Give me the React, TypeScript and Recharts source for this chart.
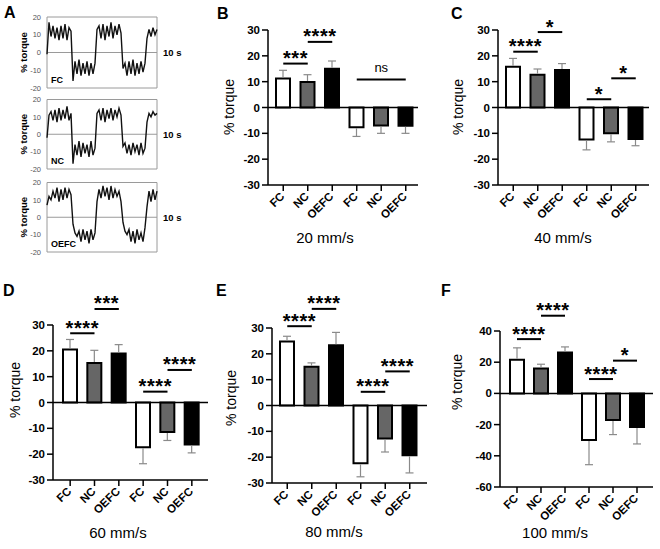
import React from "react";
import {
  BarChart,
  Bar,
  Cell,
  XAxis,
  YAxis,
  ReferenceLine,
  ReferenceArea,
  LineChart,
  Line,
} from "recharts";

const FONT = "'Liberation Sans', Arial, Helvetica, sans-serif";
const W = 660;
const H = 549;

// categories (suffix keeps the two halves apart)
const CATS = ["FC1", "NC1", "OEFC1", "FC2", "NC2", "OEFC2"];
const FILLS = ["#ffffff", "#666666", "#000000", "#ffffff", "#666666", "#000000"];

const TICKS_30 = [-30, -20, -10, 0, 10, 20, 30];
const TICKS_F = [-60, -40, -20, 0, 20, 40];

// means / SD
const MEAN_20 = [11.2, 9.9, 15.0, -7.6, -7.0, -7.1];
const SD_20 = [3.2, 2.8, 3.0, 3.6, 3.0, 2.9];
const MEAN_40 = [15.8, 12.7, 14.5, -12.4, -10.0, -12.2];
const SD_40 = [3.2, 2.2, 2.5, 4.0, 3.3, 2.6];
const MEAN_60 = [20.5, 15.3, 19.0, -17.3, -11.4, -16.3];
const SD_60 = [3.9, 4.9, 3.4, 6.4, 3.3, 3.2];
const MEAN_80 = [24.8, 15.0, 23.3, -22.4, -12.8, -19.3];
const SD_80 = [2.0, 1.5, 5.0, 5.2, 5.2, 6.8];
const MEAN_100 = [21.6, 16.0, 26.2, -29.9, -17.0, -21.6];
const SD_100 = [7.6, 2.7, 3.6, 15.8, 9.4, 10.8];

// significance bars: [from, to, y, text]
const SIG_20: [string, string, number, string][] = [
  ["FC1", "NC1", 17, "***"],
  ["NC1", "OEFC1", 25.4, "****"],
  ["FC2", "OEFC2", 10.8, "ns"],
];
const SIG_40: [string, string, number, string][] = [
  ["FC1", "NC1", 21.6, "****"],
  ["NC1", "OEFC1", 29.2, "*"],
  ["FC2", "NC2", 3.2, "*"],
  ["NC2", "OEFC2", 11.3, "*"],
];
const SIG_60: [string, string, number, string][] = [
  ["FC1", "NC1", 26.8, "****"],
  ["NC1", "OEFC1", 36.2, "***"],
  ["FC2", "NC2", 4.2, "****"],
  ["NC2", "OEFC2", 12.6, "****"],
];
const SIG_80: [string, string, number, string][] = [
  ["FC1", "NC1", 30.7, "****"],
  ["NC1", "OEFC1", 37.4, "****"],
  ["FC2", "NC2", 5.3, "****"],
  ["NC2", "OEFC2", 13.2, "****"],
];
const SIG_100: [string, string, number, string][] = [
  ["FC1", "NC1", 34.8, "****"],
  ["NC1", "OEFC1", 49.8, "****"],
  ["FC2", "NC2", 9.2, "****"],
  ["NC2", "OEFC2", 21, "*"],
];

// panel A torque traces (% torque, sampled along the 10 s window)
const TRACE_FC = [-1, 17, 9, 15, 8, 14, 7, 15, 8, 16, 7, 14, 12, -16, -5, -12, -4, -13, -6, -12, -5, -13, -6, -12, -6, 13, 15, 8, 16, 7, 15, 9, 17, 8, 15, 10, 16, 11, -9, -6, -13, -5, -12, -4, -13, -6, -12, -5, -11, -6, 8, 13, 9, 14, 10, 13];
const TRACE_NC = [-2, 11, 13, 8, 14, 7, 15, 8, 14, 9, 16, 8, 12, -17, -6, -12, -4, -13, -5, -11, -6, -13, -4, -12, -8, 12, 14, 8, 15, 7, 14, 9, 15, 8, 14, 10, 15, 11, -7, -5, -11, -6, -12, -5, -10, -6, -12, -5, -11, -8, 7, 12, 10, 13, 11, 12];
const TRACE_OEFC = [7, 12, 10, 15, 11, 17, 9, 16, 10, 17, 11, 16, 13, -4, -9, -11, -8, -14, -7, -13, -8, -15, -7, -13, -9, 9, 16, 11, 18, 12, 17, 10, 18, 11, 16, 12, 15, 9, -3, -8, -10, -7, -14, -8, -15, -7, -13, -9, -14, -6, 6, 15, 9, 16, 10, 15];
const A_TICKS = [-20, -10, 0, 10, 20];

const PANELS = [
  { id: "B", mean: MEAN_20, sd: SD_20, sig: SIG_20, ticks: TICKS_30, title: "20 mm/s",
    left: 268, right: 418, top: 30, bottom: 185, padL: 3, padR: 0,
    letterX: 217, letterY: 19, titleX: 325, titleY: 243, ylabX: 234, ylabY: 107 },
  { id: "C", mean: MEAN_40, sd: SD_40, sig: SIG_40, ticks: TICKS_30, title: "40 mm/s",
    left: 498, right: 649, top: 30, bottom: 185, padL: 3, padR: 1,
    letterX: 451, letterY: 19, titleX: 563, titleY: 243, ylabX: 463, ylabY: 107 },
  { id: "D", mean: MEAN_60, sd: SD_60, sig: SIG_60, ticks: TICKS_30, title: "60 mm/s",
    left: 53, right: 208, top: 325, bottom: 480, padL: 5, padR: 4,
    letterX: 3, letterY: 296, titleX: 118, titleY: 538, ylabX: 20, ylabY: 390 },
  { id: "E", mean: MEAN_80, sd: SD_80, sig: SIG_80, ticks: TICKS_30, title: "80 mm/s",
    left: 272, right: 427, top: 328, bottom: 483, padL: 3, padR: 5,
    letterX: 216, letterY: 296, titleX: 334, titleY: 537, ylabX: 236, ylabY: 398 },
  { id: "F", mean: MEAN_100, sd: SD_100, sig: SIG_100, ticks: TICKS_F, title: "100 mm/s",
    left: 500, right: 653, top: 331, bottom: 487, padL: 5, padR: 4,
    letterX: 441, letterY: 296, titleX: 555, titleY: 538, ylabX: 462, ylabY: 382 },
];

const A_BOXES = [
  { trace: TRACE_FC, label: "FC", top: 17, bottom: 88 },
  { trace: TRACE_NC, label: "NC", top: 99.5, bottom: 169 },
  { trace: TRACE_OEFC, label: "OEFC", top: 182.5, bottom: 252 },
];

function CatTick(props: any) {
  const { x, y, payload } = props;
  const label = String(payload.value).replace(/\d$/, "");
  const px = x + 2;
  const py = y + 4;
  return (
    <text x={px} y={py} textAnchor="end" transform={`rotate(-45 ${px} ${py})`}
      fontSize={11.5} fontWeight="bold" fill="#000" fontFamily={FONT}>
      {label}
    </text>
  );
}

function ErrShape(props: any) {
  const { x, y, width, height, payload } = props;
  if (x == null || y == null || width == null || height == null) return null;
  const cx = x + width / 2;
  const y1 = y;
  const y2 = y + height;
  const up = payload.mean >= 0;
  const far = up ? Math.min(y1, y2) : Math.max(y1, y2);
  const near = up ? Math.max(y1, y2) - 1 : Math.min(y1, y2) + 1;
  return (
    <g>
      <line x1={cx} x2={cx} y1={near} y2={far} stroke="#8a8a8a" strokeWidth={1.2} />
      <line x1={cx - 4} x2={cx + 4} y1={far} y2={far} stroke="#8a8a8a" strokeWidth={1.2} />
    </g>
  );
}

function SigLabel(props: any) {
  const { viewBox, text } = props;
  const cx = viewBox.x + viewBox.width / 2;
  if (text === "ns") {
    return (
      <text x={cx} y={viewBox.y - 7.5} textAnchor="middle" fontSize={13} fill="#000" fontFamily={FONT}>
        {text}
      </text>
    );
  }
  return (
    <text x={cx} y={viewBox.y + 1.5} textAnchor="middle" fontSize={20} fontWeight="bold"
      letterSpacing={0.6} fill="#000" fontFamily={FONT}>
      {text}
    </text>
  );
}

function BarPanel({ p }: { p: (typeof PANELS)[number] }) {
  const data = CATS.map((c, i) => ({
    cat: c,
    mean: p.mean[i],
    err: p.mean[i] < 0 ? -p.sd[i] : p.sd[i],
  }));
  const yW = 40;
  return (
    <div style={{ position: "absolute", left: 0, top: 0 }}>
      <BarChart
        width={W}
        height={H}
        data={data}
        stackOffset="sign"
        barCategoryGap={0}
        margin={{ top: p.top, bottom: 0, left: p.left - yW, right: W - p.right }}
      >
        <XAxis
          dataKey="cat"
          interval={0}
          height={H - p.bottom}
          padding={{ left: p.padL, right: p.padR }}
          tick={<CatTick />}
          tickSize={6}
          axisLine={{ stroke: "#000", strokeWidth: 1.5 }}
          tickLine={{ stroke: "#000", strokeWidth: 1.5 }}
        />
        <YAxis
          width={yW}
          type="number"
          domain={[p.ticks[0], p.ticks[p.ticks.length - 1]]}
          ticks={p.ticks}
          interval={0}
          tickSize={6}
          tick={{ fill: "#000", fontSize: 11.5, fontWeight: "bold", fontFamily: FONT }}
          axisLine={{ stroke: "#000", strokeWidth: 1.5 }}
          tickLine={{ stroke: "#000", strokeWidth: 1.5 }}
        />
        <Bar dataKey="mean" stackId="s" barSize={14} stroke="#000" strokeWidth={2}
          isAnimationActive={false}>
          {data.map((d, i) => (
            <Cell key={d.cat} fill={FILLS[i]} />
          ))}
        </Bar>
        <Bar dataKey="err" stackId="s" barSize={14} isAnimationActive={false}
          shape={(sp: any) => <ErrShape {...sp} />} />
        <ReferenceLine y={0} stroke="#000" strokeWidth={1.5} />
        {p.sig.map(([a, b, y, t]) => (
          <ReferenceLine
            key={a + b}
            segment={[{ x: a, y }, { x: b, y }]}
            stroke="#000"
            strokeWidth={2}
            ifOverflow="visible"
            label={<SigLabel text={t} />}
          />
        ))}
      </BarChart>
    </div>
  );
}

function TracePanel({ b }: { b: (typeof A_BOXES)[number] }) {
  const data = b.trace.map((v, i) => ({ t: i, v }));
  const left = 47;
  const right = 157;
  const yW = 20;
  return (
    <div style={{ position: "absolute", left: 0, top: 0 }}>
      <LineChart
        width={W}
        height={H}
        data={data}
        margin={{ top: b.top, bottom: H - b.bottom, left: left - yW, right: W - right }}
      >
        <XAxis dataKey="t" type="number" domain={[0, b.trace.length - 1]} hide />
        <YAxis
          width={yW}
          type="number"
          domain={[-20, 20]}
          ticks={A_TICKS}
          interval={0}
          tickSize={0}
          tickMargin={6}
          axisLine={false}
          tickLine={false}
          tick={{ fill: "#555", fontSize: 7.5, fontFamily: FONT }}
        />
        <ReferenceArea x1={0} x2={b.trace.length - 1} y1={-20} y2={20}
          fill="none" stroke="#9a9a9a" strokeWidth={1} />
        <ReferenceLine y={0} stroke="#9a9a9a" strokeWidth={1} />
        <Line dataKey="v" type="linear" stroke="#111" strokeWidth={1.4} dot={false}
          isAnimationActive={false} />
      </LineChart>
    </div>
  );
}

export default function App() {
  return (
    <div style={{ position: "absolute", left: 0, top: 0, width: W, height: H, background: "#fff", fontFamily: FONT }}>
      {A_BOXES.map((b) => (
        <TracePanel key={b.label} b={b} />
      ))}
      {PANELS.map((p) => (
        <BarPanel key={p.id} p={p} />
      ))}
      <svg width={W} height={H} style={{ position: "absolute", left: 0, top: 0, pointerEvents: "none" }}
        fontFamily={FONT}>
        <text x={4} y={18} fontSize={16} fontWeight="bold">A</text>
        {A_BOXES.map((b) => {
          const mid = (b.top + b.bottom) / 2;
          return (
            <g key={b.label}>
              <text transform={`translate(27 ${mid}) rotate(-90)`} textAnchor="middle" fontSize={9.5} fontWeight="bold">% torque</text>
              <text x={163} y={mid + 3.5} fontSize={9.5} fontWeight="bold">10 s</text>
              <text x={51} y={b.bottom - 5} fontSize={9} fontWeight="bold">{b.label}</text>
            </g>
          );
        })}
        {PANELS.map((p) => (
          <g key={p.id}>
            <text x={p.letterX} y={p.letterY} fontSize={16} fontWeight="bold">{p.id}</text>
            <text x={p.titleX} y={p.titleY} textAnchor="middle" fontSize={15}>{p.title}</text>
            <text transform={`translate(${p.ylabX} ${p.ylabY}) rotate(-90)`} textAnchor="middle" fontSize={14}>% torque</text>
          </g>
        ))}
      </svg>
    </div>
  );
}
